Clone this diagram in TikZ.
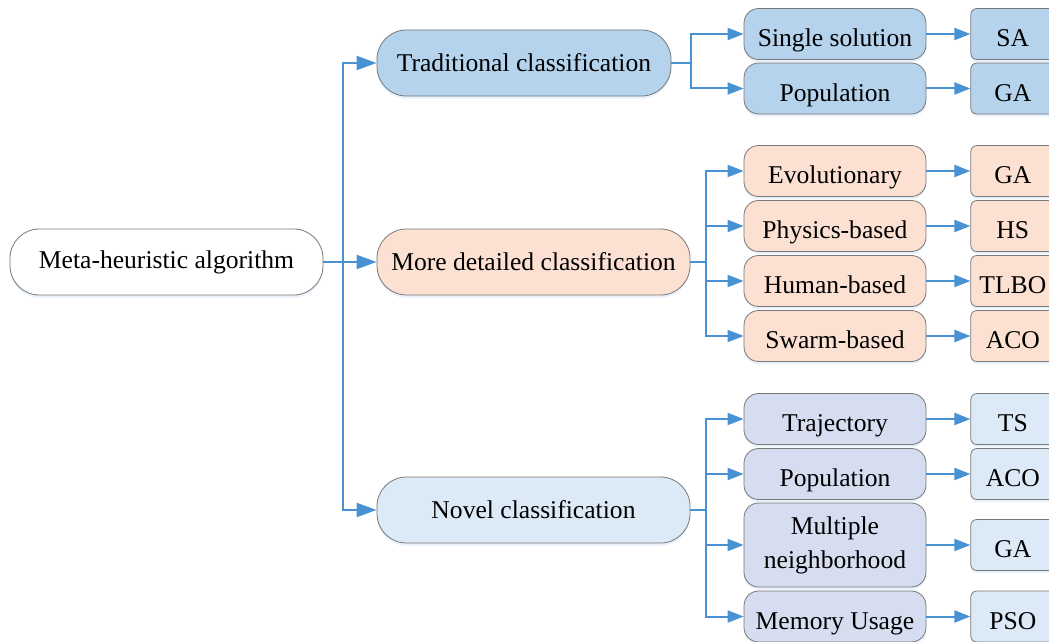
\documentclass[tikz,border=0pt]{standalone}
\usepackage{fontspec}
\setmainfont{Liberation Serif}
\usetikzlibrary{arrows.meta,positioning,shadows}
\definecolor{rootcol}{RGB}{255,255,255}
\definecolor{tradcol}{RGB}{181,211,236}
\definecolor{detcol}{RGB}{252,225,210}
\definecolor{novcol}{RGB}{220,233,246}
\definecolor{novsubcol}{RGB}{214,221,240}
\definecolor{linecol}{RGB}{72,146,212}
\definecolor{edgecol}{RGB}{120,120,120}

\begin{document}
\begin{tikzpicture}[
  x=0.75pt, y=-0.75pt,
  >={Triangle[length=12pt,width=9pt]},
  box/.style={draw=edgecol, line width=0.6pt, align=center,
              font=\fontsize{19.2}{22}\selectfont, inner sep=2pt,
              drop shadow={shadow xshift=0pt, shadow yshift=-2pt, fill=linecol!35, opacity=0.35}},
  low/.style={text height=19pt, text depth=0pt},
  pill/.style={box, rounded corners=22pt, minimum height=49.5pt, minimum width=234.75pt},
  catbase/.style={box, rounded corners=11pt, minimum height=38.25pt, minimum width=136.5pt},
  cat/.style={catbase, low},
  alg/.style={box, low, rounded corners=4.5pt, minimum height=38.25pt, minimum width=63pt},
  link/.style={->, line width=1.5pt, draw=linecol},
  biglink/.style={link, -{Triangle[length=15pt,width=10.5pt]}}
]
\useasboundingbox (0,0) rectangle (1049,642);
\clip (0,0) rectangle (1049,642);

% root and first level
\node[pill, fill=rootcol] (root) at (166.5,262) {Meta-heuristic algorithm};
\node[pill, fill=tradcol, minimum width=220.5pt] (trad) at (524,63) {Traditional classification};
\node[pill, fill=detcol] (det) at (533.5,262) {More detailed classification};
\node[pill, fill=novcol] (nov) at (533.5,510) {Novel classification};

% second level
\node[cat, fill=tradcol] (single) at (835,34) {Single solution};
\node[cat, fill=tradcol] (popa) at (835,88.5) {Population};

\node[cat, fill=detcol] (evo) at (835,171) {Evolutionary};
\node[cat, fill=detcol] (phys) at (835,226) {Physics-based};
\node[cat, fill=detcol] (hum) at (835,281) {Human-based};
\node[cat, fill=detcol] (swarm) at (835,336) {Swarm-based};

\node[cat, fill=novsubcol] (traj) at (835,419) {Trajectory};
\node[cat, fill=novsubcol] (popb) at (835,474) {Population};
\node[catbase, fill=novsubcol, minimum height=63pt,
      font=\fontsize{19.2}{25.5}\selectfont] (multi) at (835,545) {Multiple\\neighborhood};
\node[cat, fill=novsubcol] (mem) at (835,616.5) {Memory Usage};

% third level
\node[alg, fill=tradcol, right=33pt of single] (sa) {SA};
\node[alg, fill=tradcol, right=33pt of popa] (gaa) {GA};
\node[alg, fill=detcol, right=33pt of evo] (gab) {GA};
\node[alg, fill=detcol, right=33pt of phys] (hs) {HS};
\node[alg, fill=detcol, right=33pt of hum] (tlbo) {TLBO};
\node[alg, fill=detcol, right=33pt of swarm] (acoa) {ACO};
\node[alg, fill=novcol, right=33pt of traj] (ts) {TS};
\node[alg, fill=novcol, right=33pt of popb] (acob) {ACO};
\node[alg, fill=novcol, right=33pt of multi] (gac) {GA};
\node[alg, fill=novcol, right=33pt of mem] (pso) {PSO};

% branch points
\coordinate (j0) at (343,262);
\coordinate (j1) at (691,63);
\coordinate (j2) at (706,262);
\coordinate (j3) at (706,510);

\draw[biglink] (root.east) -- (j0) |- (trad.west);
\draw[biglink] (root.east) -- (det.west);
\draw[biglink] (root.east) -- (j0) |- (nov.west);

\draw[link] (trad.east) -- (j1) |- (single.west);
\draw[link] (trad.east) -- (j1) |- (popa.west);

\draw[link] (det.east) -- (j2) |- (evo.west);
\draw[link] (det.east) -- (j2) |- (phys.west);
\draw[link] (det.east) -- (j2) |- (hum.west);
\draw[link] (det.east) -- (j2) |- (swarm.west);

\draw[link] (nov.east) -- (j3) |- (traj.west);
\draw[link] (nov.east) -- (j3) |- (popb.west);
\draw[link] (nov.east) -- (j3) |- (multi.west);
\draw[link] (nov.east) -- (j3) |- (mem.west);

\draw[link] (single) -- (sa);
\draw[link] (popa) -- (gaa);
\draw[link] (evo) -- (gab);
\draw[link] (phys) -- (hs);
\draw[link] (hum) -- (tlbo);
\draw[link] (swarm) -- (acoa);
\draw[link] (traj) -- (ts);
\draw[link] (popb) -- (acob);
\draw[link] (multi) -- (gac);
\draw[link] (mem) -- (pso);
\end{tikzpicture}
\end{document}
